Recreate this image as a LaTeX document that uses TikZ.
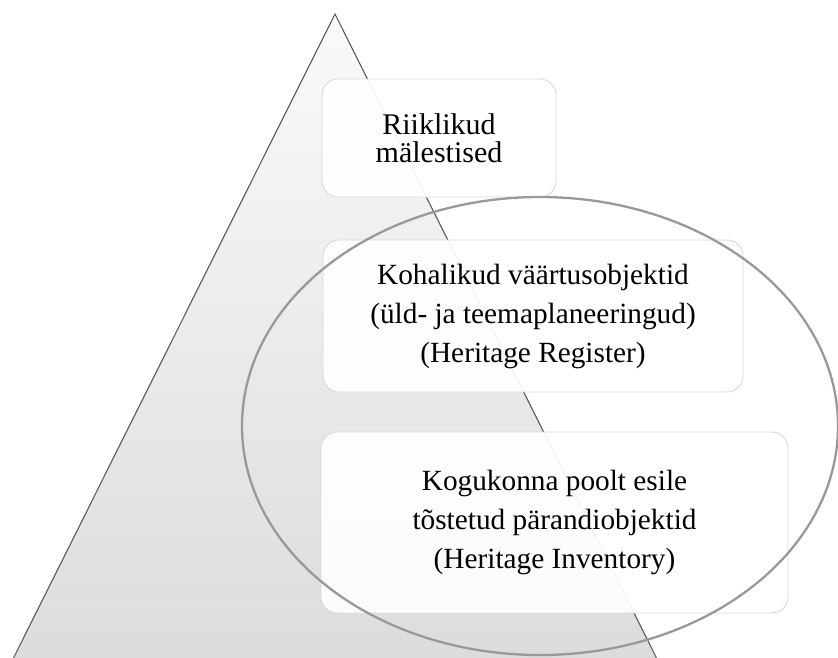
\documentclass[tikz,border=0pt]{standalone}
\usepackage{fontspec}
\setmainfont{Liberation Serif}
\usetikzlibrary{shapes.geometric}
\begin{document}
\begin{tikzpicture}[x=1pt,y=-1pt,
  levelbox/.style={draw=boxline, line width=0.9pt, fill=white, fill opacity=0.93, text opacity=1,
    rounded corners=16pt, align=center, inner sep=0pt, font=\fontsize{29.3}{39}\selectfont},
  ring/.style={draw=ringgray, line width=2.3pt}]
\definecolor{boxline}{HTML}{D9D9D9}
\definecolor{ringgray}{HTML}{999999}
\definecolor{edgegray}{HTML}{5A5A5A}
\definecolor{toptri}{HTML}{FAFAFA}
\definecolor{bottri}{HTML}{DCDCDC}
\useasboundingbox (0,0) rectangle (838,657);
\begin{scope}
\clip (0,0) rectangle (838,657);
% pyramid
\coordinate (apex) at (335,14);
\coordinate (bl) at (13,659);
\coordinate (br) at (657,659);
\shade[top color=toptri, bottom color=bottri] (apex) -- (bl) -- (br) -- cycle;
\draw[edgegray, line width=1.1pt] (bl) -- (apex) -- (br);
% boxes
\node[levelbox, minimum width=234pt, minimum height=118pt, font=\fontsize{30}{28}\selectfont] (b1) at (439,138) {Riiklikud\\mälestised};
\node[levelbox, minimum width=420pt, minimum height=152pt] (b2) at (533,316) {Kohalikud väärtusobjektid\\(üld- ja teemaplaneeringud)\\(Heritage Register)};
\node[levelbox, minimum width=467pt, minimum height=181pt] (b3) at (554.5,522.5) {Kogukonna poolt esile\\tõstetud pärandiobjektid\\(Heritage Inventory)};
% ellipse
\node[ring, ellipse, minimum width=596pt, minimum height=458pt, inner sep=0pt] (ring) at (540,426) {};
\end{scope}
\end{tikzpicture}
\end{document}
